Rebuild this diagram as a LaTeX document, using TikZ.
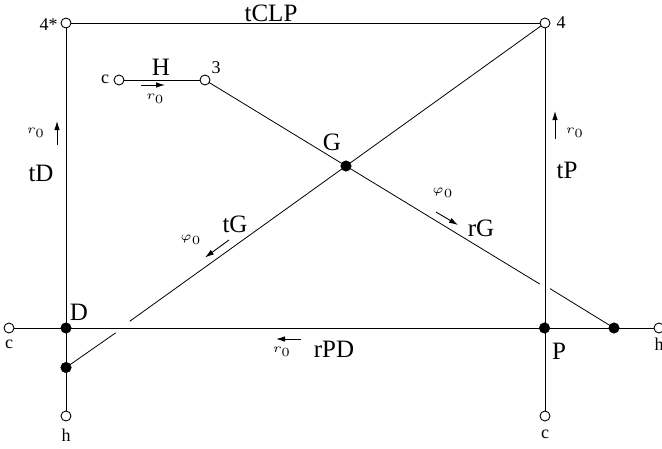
\documentclass[tikz,border=0pt]{standalone}
\usepackage{fontspec}
\setmainfont{Liberation Serif}
\usetikzlibrary{arrows.meta,calc}
\tikzset{
  open/.style={circle,draw=black,fill=white,line width=0.9pt,minimum size=10pt,inner sep=0pt},
  full/.style={circle,draw=black,fill=black,line width=0.5pt,minimum size=10.5pt,inner sep=0pt},
  big/.style={inner sep=0pt,font=\fontsize{25}{27}\selectfont},
  small/.style={inner sep=0pt,font=\fontsize{18}{20}\selectfont},
  sym/.style={inner sep=0pt,scale=2.5},
  wire/.style={line width=1pt,black},
  thin wire/.style={line width=0.8pt,black},
  dirn/.style={line width=0.9pt,-{Latex[length=9pt,width=5.5pt]}}
}
\begin{document}
\begin{tikzpicture}[x=1pt,y=-1pt]
\useasboundingbox (0,0) rectangle (662,448);
% junctions
\coordinate (a) at (66,23);
\coordinate (b) at (545,23);
\coordinate (cc) at (119,80);
\coordinate (three) at (205,80);
\coordinate (g) at (346,166);
\coordinate (d) at (66,328);
\coordinate (lf) at (66,367.5);
\coordinate (lc) at (9,328);
\coordinate (lh) at (66,416);
\coordinate (p) at (544.5,328);
\coordinate (rf) at (614,328);
\coordinate (rh) at (659,328);
\coordinate (pc) at (545,416);
% gap ends
\coordinate (g1) at (129.7,321.3);
\coordinate (g2) at (115.7,332.8);
\coordinate (g3) at (539.7,284);
\coordinate (g4) at (550,288.6);
% wires
\draw[wire] (a) -- (b);
\draw[wire] (a) -- (lh);
\draw[wire] (b) -- (pc);
\draw[wire] (lc) -- (rh);
\draw[wire] (cc) -- (three);
\draw[thin wire] (b) -- (g) -- (g1);
\draw[thin wire] (g2) -- (lf);
\draw[thin wire] (three) -- (g) -- (g3);
\draw[thin wire] (g4) -- (rf);
% nodes
\node[open] (na) at (a) {};
\node[open] (nb) at (b) {};
\node[open] (ncc) at (cc) {};
\node[open] (nthree) at (three) {};
\node[open] (nlc) at (lc) {};
\node[open] (nlh) at (lh) {};
\node[open] (nrh) at (rh) {};
\node[open] (npc) at (pc) {};
\node[full] (ng) at (g) {};
\node[full] (nd) at (d) {};
\node[full] (nlf) at (lf) {};
\node[full] (np) at (p) {};
\node[full] (nrf) at (rf) {};
% arrows
\coordinate (h1) at (141,85); \coordinate (h2) at (165,85);
\coordinate (l1) at (57,145); \coordinate (l2) at (57,121);
\coordinate (r1) at (555,139); \coordinate (r2) at (555,111);
\coordinate (s1) at (436,212); \coordinate (s2) at (458,225);
\coordinate (t1) at (229,240); \coordinate (t2) at (205,257.5);
\coordinate (u1) at (301,339); \coordinate (u2) at (276,339);
\draw[dirn] (h1) -- (h2);
\draw[dirn] (l1) -- (l2);
\draw[dirn] (r1) -- (r2);
\draw[dirn] (s1) -- (s2);
\draw[dirn] (t1) -- (t2);
\draw[dirn] (u1) -- (u2);
% labels
\node[big] (ltclp) at (271,13) {tCLP};
\node[big] (lH) at (161,67) {H};
\node[big] (ltd) at (41,173) {tD};
\node[big] (lG) at (332,142) {G};
\node[big] (ltp) at (567,170) {tP};
\node[big] (lrg) at (481,228) {rG};
\node[big] (ltg) at (235,224) {tG};
\node[big] (lD) at (79,312) {D};
\node[big] (lrpd) at (334,349) {rPD};
\node[big] (lP) at (559,351) {P};
\node[small] (l4s) at (48.5,25) {4*};
\node[small] (l4) at (561,23) {4};
\node[small] (lc1) at (105,79) {c};
\node[small] (l3) at (216,68) {3};
\node[small] (lc2) at (9,344) {c};
\node[small] (lh1) at (66,435) {h};
\node[small] (lh2) at (659,344) {h};
\node[small] (lc3) at (545,434) {c};
\node[sym] (r0a) at (155.5,99) {$\scriptscriptstyle r_0$};
\node[sym] (r0b) at (36,133) {$\scriptscriptstyle r_0$};
\node[sym] (r0c) at (575,133) {$\scriptscriptstyle r_0$};
\node[sym] (r0d) at (282,352) {$\scriptscriptstyle r_0$};
\node[sym] (p0a) at (443,193) {$\scriptscriptstyle \varphi_0$};
\node[sym] (p0b) at (191,240) {$\scriptscriptstyle \varphi_0$};
\end{tikzpicture}
\end{document}
